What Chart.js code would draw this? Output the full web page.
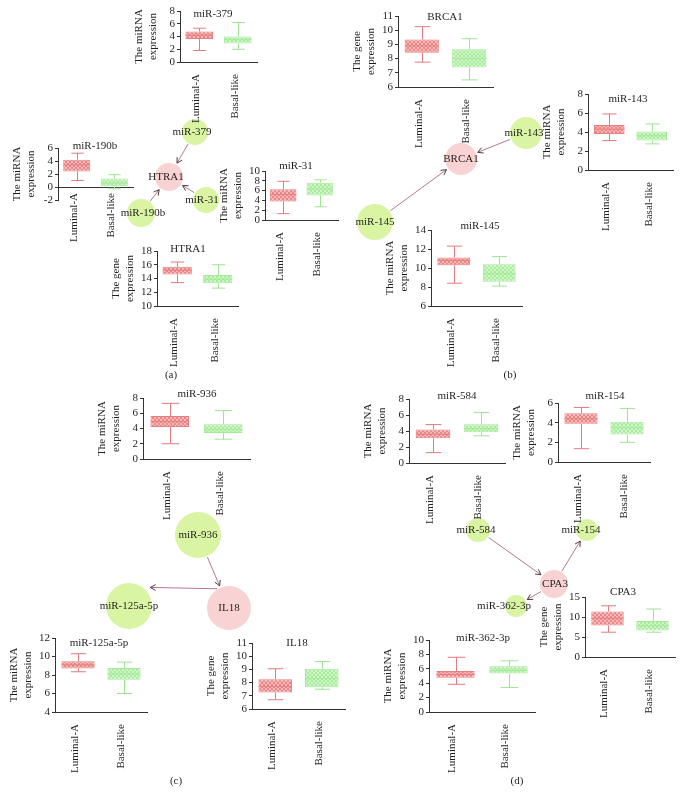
<!DOCTYPE html>
<html>
<head>
<meta charset="utf-8">
<script src="https://cdn.jsdelivr.net/npm/chart.js@4.4.1/dist/chart.umd.min.js"></script>
<style>
html, body { margin: 0; padding: 0; background: #fff; }
#page { position: relative; width: 683px; height: 792px; overflow: hidden; font-family: "Liberation Serif", "DejaVu Serif", serif; }
#page canvas { position: absolute; }
.panel { position: absolute; font-size: 11px; color: #231f20; transform: translate(-50%, -50%); }
</style>
</head>
<body>
<div id="page"></div>
<script>
// ---- data ----
const groups = ["Luminal-A", "Basal-like"];

const boxTitles = ["miR-379", "miR-190b", "miR-31", "HTRA1", "BRCA1", "miR-143", "miR-145",
  "miR-936", "miR-125a-5p", "IL18", "miR-584", "miR-154", "CPA3", "miR-362-3p"];
const boxKind = ["miRNA", "miRNA", "miRNA", "gene", "gene", "miRNA", "miRNA",
  "miRNA", "miRNA", "gene", "miRNA", "miRNA", "gene", "miRNA"];

const yMin  = [0, -2, 0, 10, 6, 0, 6, 0, 4, 6, 0, 0, 0, 0];
const yMax  = [8, 6, 10, 18, 11, 8, 14, 8, 12, 11, 8, 6, 15, 10];
const yStep = [2, 2, 2, 2, 1, 2, 2, 2, 2, 1, 2, 2, 5, 2];

// Luminal-A
const lumMin = [1.8, 1.0, 1.3, 13.4, 7.75, 3.1, 8.4, 2.0, 8.35, 6.7, 1.3, 1.35, 6.2, 3.85];
const lumQ1  = [3.6, 2.4, 3.8, 14.6, 8.42, 3.8, 10.3, 4.2, 8.7, 7.25, 3.1, 3.9, 7.85, 4.75];
const lumMed = [4.2, 3.4, 5.2, 15.2, 8.9, 4.3, 10.8, 4.9, 9.1, 7.7, 3.6, 4.4, 9.7, 5.2];
const lumQ3  = [4.8, 4.2, 6.3, 15.7, 9.35, 4.75, 11.1, 5.65, 9.5, 8.25, 4.2, 4.95, 11.4, 5.7];
const lumMax = [5.3, 5.2, 7.9, 16.4, 10.25, 5.9, 12.3, 7.3, 10.3, 9.05, 4.8, 5.55, 12.8, 7.6];
// Basal-like
const basMin = [2.0, -0.2, 2.7, 12.6, 6.5, 2.75, 8.1, 2.6, 6.0, 7.5, 3.4, 2.0, 6.2, 3.4];
const basQ1  = [2.9, 0.1, 5.0, 13.3, 7.37, 3.1, 8.55, 3.4, 7.5, 7.65, 3.85, 2.8, 6.6, 5.35];
const basMed = [3.5, 0.6, 6.3, 13.9, 8.0, 3.6, 9.4, 3.9, 8.1, 8.3, 4.3, 3.5, 7.8, 5.8];
const basQ3  = [4.0, 1.3, 7.6, 14.5, 8.65, 4.05, 10.4, 4.55, 8.75, 9.05, 4.85, 4.1, 9.0, 6.35];
const basMax = [6.2, 1.9, 8.2, 16.0, 9.4, 4.85, 11.2, 6.35, 9.4, 9.6, 6.3, 5.45, 12.0, 7.1];

// network nodes (page coordinates) and edges
const nodeNames = ["miR-379", "HTRA1", "miR-31", "miR-190b", "BRCA1", "miR-143", "miR-145",
  "miR-936", "miR-125a-5p", "IL18", "miR-584", "miR-154", "CPA3", "miR-362-3p"];
const nodeKind = ["miRNA", "gene", "miRNA", "miRNA", "gene", "miRNA", "miRNA",
  "miRNA", "miRNA", "gene", "miRNA", "miRNA", "gene", "miRNA"];
const nodeX = [195, 169, 206, 141, 461, 526, 375, 198, 129, 229, 478, 587, 554, 516];
const nodeY = [132, 177, 200, 213, 159, 133, 222, 535, 606, 608, 530, 530, 584, 606];
const edgeFrom = ["miR-379", "miR-31", "miR-190b", "miR-143", "miR-145", "miR-936", "IL18", "miR-584", "CPA3", "CPA3"];
const edgeTo   = ["HTRA1", "HTRA1", "HTRA1", "BRCA1", "BRCA1", "IL18", "miR-125a-5p", "CPA3", "miR-154", "miR-362-3p"];

const panelLabels = ["(a)", "(b)", "(c)", "(d)"];

// ---- layout / style ----
const YW = 48, PAD_T = 14, PAD_R = 3, XH = 62;
// plot area of each box chart: left, right, top, bottom (page px)
const BOX_FRAMES = [
  [180, 257, 11, 62], [58, 133, 148, 200], [265, 338, 171, 220], [157, 238, 251, 306],
  [398, 493, 16, 87], [588, 673, 94, 170], [431, 522, 230, 306],
  [143, 250, 398, 459], [55, 147, 638, 712], [252, 345, 643, 709],
  [409, 505, 399, 463], [558, 650, 403, 462], [585, 675, 597, 657], [429, 535, 640, 712]
];
const TITLE_POS = [
  [213, 14], [95, 146], [296, 166], [188, 249], [445, 17], [628, 99], [480, 226],
  [197, 394], [99, 643], [297, 643], [457, 396], [605, 396], [623, 592], [483, 638]
];
const NODE_R = [13, 14, 13, 14, 16, 16, 18, 23, 23, 22, 12, 11, 14, 11];
const NODE_LABEL_DX = [-3, -3, -4, 2, 0, -2, 0, 0, 0, 0, -2, -6, 1, -12];
const EDGE_SHIFT = [0, 0, 0, 0, 0, 0, 19, 0, 0, 0];
const EDGE_GAP = [2, 2, 2, 2, 2, 2, 8, 2, 2, 2];
const PANEL_POS = [[171, 374], [510, 374], [176, 780], [517, 780]];

const TEXT = "#231f20";
const AXIS = "#333333";
const PINK_BORDER = "#e68080", GREEN_BORDER = "#a6e79b";
const PINK_WHISK = "#e27a80", GREEN_WHISK = "#9fe495";
const NODE_GREEN = "#d9f5a3", NODE_PINK = "#f9d3d3";
const EDGE_COLOR = "#b07a88", HEAD_COLOR = "#4a3a40";

Chart.defaults.font.family = '"Liberation Serif", "DejaVu Serif", serif';
Chart.defaults.font.size = 11;
Chart.defaults.color = TEXT;

const page = document.getElementById("page");

function hatch(base, line){
  const c = document.createElement("canvas");
  c.width = 4; c.height = 4;
  const g = c.getContext("2d");
  g.fillStyle = base;
  g.fillRect(0, 0, 4, 4);
  g.fillStyle = line;
  for(let k = 0; k < 4; k++){
    g.fillRect(k, k, 1, 1);
    g.fillRect(3 - k, k, 1, 1);
  }
  return g.createPattern(c, "repeat");
}
const PINK_FILL = hatch("#f6b8b8", "#e98686");
const GREEN_FILL = hatch("#cef7c6", "#aaeba0");

function addCanvas(left, top, w, h){
  const cv = document.createElement("canvas");
  cv.width = w; cv.height = h;
  cv.style.left = left + "px";
  cv.style.top = top + "px";
  cv.style.width = w + "px";
  cv.style.height = h + "px";
  page.appendChild(cv);
  return cv;
}

// ---- network overlay ----
const netPlugin = {
  id: "netDraw",
  afterDatasetsDraw(chart){
    const ctx = chart.ctx;
    const xs = chart.scales.x, ys = chart.scales.y;
    const px = k => xs.getPixelForValue(nodeX[k]);
    const py = k => ys.getPixelForValue(nodeY[k]);

    ctx.save();
    edgeFrom.forEach((from, e) => {
      const a = nodeNames.indexOf(from), b = nodeNames.indexOf(edgeTo[e]);
      let ax = px(a), ay = py(a), bx = px(b), by = py(b);
      const len = Math.hypot(bx - ax, by - ay);
      const ux = (bx - ax) / len, uy = (by - ay) / len;
      const s = EDGE_SHIFT[e];
      // perpendicular shift (keeps the line off the labels)
      const nx = -uy, ny = ux;
      ax += nx * s; ay += ny * s; bx += nx * s; by += ny * s;
      const ra = Math.sqrt(Math.max(NODE_R[a] ** 2 - s * s, 0)) + 1;
      const rb = Math.sqrt(Math.max(NODE_R[b] ** 2 - s * s, 0)) + EDGE_GAP[e];
      const x1 = ax + ux * ra, y1 = ay + uy * ra;
      const x2 = bx - ux * rb, y2 = by - uy * rb;

      ctx.strokeStyle = EDGE_COLOR;
      ctx.lineWidth = 1;
      ctx.beginPath();
      ctx.moveTo(x1, y1);
      ctx.lineTo(x2, y2);
      ctx.stroke();

      const ang = Math.atan2(y2 - y1, x2 - x1);
      ctx.strokeStyle = HEAD_COLOR;
      ctx.beginPath();
      ctx.moveTo(x2 - 6 * Math.cos(ang - 0.5), y2 - 6 * Math.sin(ang - 0.5));
      ctx.lineTo(x2, y2);
      ctx.lineTo(x2 - 6 * Math.cos(ang + 0.5), y2 - 6 * Math.sin(ang + 0.5));
      ctx.stroke();
    });

    ctx.fillStyle = TEXT;
    ctx.font = '11px "Liberation Serif", serif';
    ctx.textAlign = "center";
    ctx.textBaseline = "middle";
    nodeNames.forEach((n, k) => {
      ctx.fillText(n, px(k) + NODE_LABEL_DX[k], py(k));
    });
    ctx.restore();
  }
};

const netCanvas = addCanvas(0, 0, 683, 792);
new Chart(netCanvas, {
  type: "scatter",
  data: {
    datasets: [{
      data: nodeNames.map((n, k) => ({ x: nodeX[k], y: nodeY[k] })),
      pointRadius: NODE_R,
      pointHoverRadius: NODE_R,
      backgroundColor: nodeKind.map(k => k === "gene" ? NODE_PINK : NODE_GREEN),
      borderWidth: 0,
      clip: false
    }]
  },
  options: {
    responsive: false,
    animation: false,
    events: [],
    layout: { padding: 0, autoPadding: false },
    scales: {
      x: { type: "linear", min: 0, max: 683, display: false },
      y: { type: "linear", min: 0, max: 792, reverse: true, display: false }
    },
    plugins: { legend: { display: false }, tooltip: { enabled: false } }
  },
  plugins: [netPlugin]
});

// ---- box plots ----
const boxPlugin = {
  id: "boxDraw",
  afterDatasetsDraw(chart){
    const i = chart.options.plugins.boxDraw.index;
    const f = BOX_FRAMES[i];
    const ys = chart.scales.y;
    const ctx = chart.ctx;
    const stats = [
      [lumMin[i], lumMed[i], lumMax[i], lumQ1[i], lumQ3[i], PINK_WHISK, PINK_BORDER],
      [basMin[i], basMed[i], basMax[i], basQ1[i], basQ3[i], GREEN_WHISK, GREEN_BORDER]
    ];
    ctx.save();
    chart.getDatasetMeta(0).data.forEach((bar, k) => {
      const [mn, md, mx, q1, q3, wc, bc] = stats[k];
      const x = Math.round(bar.x) + 0.5;
      const cap = bar.width * 0.23;
      ctx.lineWidth = 1;
      ctx.strokeStyle = wc;
      ctx.beginPath();
      ctx.moveTo(x, ys.getPixelForValue(q3));
      ctx.lineTo(x, ys.getPixelForValue(mx));
      ctx.moveTo(x - cap, ys.getPixelForValue(mx));
      ctx.lineTo(x + cap, ys.getPixelForValue(mx));
      ctx.moveTo(x, ys.getPixelForValue(q1));
      ctx.lineTo(x, ys.getPixelForValue(mn));
      ctx.moveTo(x - cap, ys.getPixelForValue(mn));
      ctx.lineTo(x + cap, ys.getPixelForValue(mn));
      ctx.stroke();
      ctx.strokeStyle = bc;
      ctx.beginPath();
      ctx.moveTo(bar.x - bar.width / 2, ys.getPixelForValue(md));
      ctx.lineTo(bar.x + bar.width / 2, ys.getPixelForValue(md));
      ctx.stroke();
    });
    // title inside the plot
    const ca = chart.chartArea;
    ctx.fillStyle = TEXT;
    ctx.font = '11px "Liberation Serif", serif';
    ctx.textAlign = "center";
    ctx.textBaseline = "middle";
    ctx.fillText(boxTitles[i], ca.left + TITLE_POS[i][0] - f[0], ca.top + TITLE_POS[i][1] - f[2]);
    ctx.restore();
  }
};

function makeBoxChart(i){
  const [l, r, t, b] = BOX_FRAMES[i];
  const zeroAxis = yMin[i] < 0;
  const w = r - l + YW + PAD_R;
  const h = b - t + PAD_T + XH;
  const cv = addCanvas(l - YW, t - PAD_T, w, h);

  new Chart(cv, {
    type: "bar",
    data: {
      labels: groups,
      datasets: [{
        data: [[lumQ1[i], lumQ3[i]], [basQ1[i], basQ3[i]]],
        backgroundColor: [PINK_FILL, GREEN_FILL],
        borderColor: [PINK_BORDER, GREEN_BORDER],
        borderWidth: 1,
        borderSkipped: false,
        categoryPercentage: 0.72,
        barPercentage: 1
      }]
    },
    options: {
      responsive: false,
      animation: false,
      events: [],
      layout: { padding: { top: PAD_T, right: PAD_R, left: 0, bottom: zeroAxis ? XH : 0 } },
      plugins: {
        legend: { display: false },
        tooltip: { enabled: false },
        boxDraw: { index: i }
      },
      scales: {
        x: {
          position: zeroAxis ? { y: 0 } : "bottom",
          grid: { display: false },
          border: { display: true, color: AXIS, width: 1 },
          ticks: { minRotation: 90, maxRotation: 90, autoSkip: false, padding: zeroAxis ? -2 : 4, labelOffset: -3 },
          afterFit: s => { if(!zeroAxis) s.height = XH; }
        },
        y: {
          min: yMin[i],
          max: yMax[i],
          grid: { drawOnChartArea: false, drawTicks: true, tickLength: 3, color: AXIS },
          border: { display: true, color: AXIS, width: 1 },
          ticks: { stepSize: yStep[i], padding: 2, autoSkip: false },
          title: {
            display: true,
            text: boxKind[i] === "gene" ? ["The gene", "expression"] : ["The miRNA", "expression"],
            padding: { top: 1, bottom: 0 }
          },
          afterFit: s => { s.width = YW; }
        }
      }
    },
    plugins: [boxPlugin]
  });
}

boxTitles.forEach((t, i) => makeBoxChart(i));

panelLabels.forEach((txt, k) => {
  const d = document.createElement("div");
  d.className = "panel";
  d.textContent = txt;
  d.style.left = PANEL_POS[k][0] + "px";
  d.style.top = PANEL_POS[k][1] + "px";
  page.appendChild(d);
});
</script>
</body>
</html>
